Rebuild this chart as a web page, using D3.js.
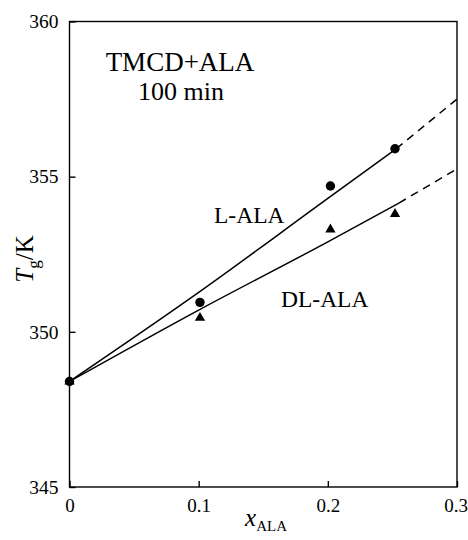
<!DOCTYPE html>
<html>
<head>
<meta charset="utf-8">
<script src="https://cdn.jsdelivr.net/npm/d3@7"></script>
<style>
  html, body { margin: 0; padding: 0; background: #fff; }
  svg { display: block; }
  text { font-family: "Liberation Serif", "Times New Roman", serif; fill: #000; }
</style>
</head>
<body>
<svg id="chart" width="468" height="540"></svg>
<script>
// ---- data ----
const xTicks = [0, 0.1, 0.2, 0.3];
const xTickLabels = ["0", "0.1", "0.2", "0.3"];
const yTicks = [345, 350, 355, 360];
const yTickLabels = ["345", "350", "355", "360"];

const lAlaX = [0, 0.101, 0.202, 0.252];
const lAlaY = [348.4, 350.95, 354.7, 355.9];
const dlAlaX = [0, 0.101, 0.202, 0.252];
const dlAlaY = [348.4, 350.45, 353.3, 353.8];

// fitted curves: solid part, then dashed extrapolation
const lFitX = [0, 0.1, 0.2, 0.253];
const lFitY = [348.4, 351.27, 354.3, 355.9];
const lExtX = [0.253, 0.3];
const lExtY = [355.9, 357.5];
const dlFitX = [0, 0.1, 0.2, 0.255];
const dlFitY = [348.4, 350.7, 352.9, 354.15];
const dlExtX = [0.255, 0.3];
const dlExtY = [354.15, 355.25];

const titleLines = ["TMCD+ALA", "100 min"];
const seriesLabels = ["L-ALA", "DL-ALA"];

// ---- layout ----
const svg = d3.select("#chart");
const L = 69.5, R = 457, T = 21.5, B = 487;
const x = d3.scaleLinear().domain([0, 0.3]).range([L, R]);
const y = d3.scaleLinear().domain([345, 360]).range([B, T]);

// frame
svg.append("rect").attr("x", L).attr("y", T).attr("width", R - L).attr("height", B - T)
  .attr("fill", "none").attr("stroke", "#000").attr("stroke-width", 1.4);

// axes (inward ticks)
const yAxis = d3.axisLeft(y).tickValues(yTicks).tickSizeInner(-6).tickSizeOuter(0)
  .tickPadding(11).tickFormat((d, i) => yTickLabels[i]);
const gy = svg.append("g").attr("transform", `translate(${L},0)`).call(yAxis);
gy.select(".domain").remove();
gy.selectAll("line").attr("stroke", "#000").attr("stroke-width", 1.4);
gy.selectAll("text").style("font-size", "19.5px").style("font-family", '"Liberation Serif", serif');

const xAxis = d3.axisBottom(x).tickValues(xTicks).tickSizeInner(-6).tickSizeOuter(0)
  .tickPadding(12).tickFormat((d, i) => xTickLabels[i]);
const gx = svg.append("g").attr("transform", `translate(0,${B})`).call(xAxis);
gx.select(".domain").remove();
gx.selectAll("line").attr("stroke", "#000").attr("stroke-width", 1.4);
gx.selectAll("text").style("font-size", "19px").style("font-family", '"Liberation Serif", serif');
// keep the last label inside the page
gx.selectAll(".tick").filter(d => d === 0.3).select("text")
  .attr("text-anchor", "end").attr("x", 10.5);

// fit curves
const line = d3.line().x(d => x(d[0])).y(d => y(d[1])).curve(d3.curveMonotoneX);
svg.append("path").datum(lFitX.map((v, i) => [v, lFitY[i]])).attr("d", line)
  .attr("fill", "none").attr("stroke", "#000").attr("stroke-width", 1.5);
svg.append("path").datum(lExtX.map((v, i) => [v, lExtY[i]])).attr("d", line)
  .attr("fill", "none").attr("stroke", "#000").attr("stroke-width", 1.5).attr("stroke-dasharray", "8,6");
svg.append("path").datum(dlFitX.map((v, i) => [v, dlFitY[i]])).attr("d", line)
  .attr("fill", "none").attr("stroke", "#000").attr("stroke-width", 1.5);
svg.append("path").datum(dlExtX.map((v, i) => [v, dlExtY[i]])).attr("d", line)
  .attr("fill", "none").attr("stroke", "#000").attr("stroke-width", 1.5).attr("stroke-dasharray", "8,6");

// markers
svg.append("g").selectAll("circle").data(lAlaX.map((v, i) => [v, lAlaY[i]])).join("circle")
  .attr("cx", d => x(d[0])).attr("cy", d => y(d[1])).attr("r", 4.7).attr("fill", "#000");
const tri = d3.symbol().type(d3.symbolTriangle).size(46);
svg.append("g").selectAll("path").data(dlAlaX.map((v, i) => [v, dlAlaY[i]])).join("path")
  .attr("d", tri).attr("transform", d => `translate(${x(d[0])},${y(d[1])})`).attr("fill", "#000");

// annotations
svg.append("text").attr("x", 180).attr("y", 71).attr("text-anchor", "middle")
  .style("font-size", "27px").text(titleLines[0]);
svg.append("text").attr("x", 181).attr("y", 100).attr("text-anchor", "middle")
  .style("font-size", "26px").text(titleLines[1]);
svg.append("text").attr("x", 214).attr("y", 223).style("font-size", "23.5px").text(seriesLabels[0]);
svg.append("text").attr("x", 281).attr("y", 307).style("font-size", "23.5px").text(seriesLabels[1]);

// y label
const yl = svg.append("text").attr("transform", "translate(33,259) rotate(-90)")
  .attr("text-anchor", "middle").style("font-size", "25px");
yl.append("tspan").style("font-style", "italic").text("T");
yl.append("tspan").attr("dy", 6).style("font-size", "17px").text("g");
yl.append("tspan").attr("dy", -6).text("/K");

// x label
const xl = svg.append("text").attr("x", 266).attr("y", 526).attr("text-anchor", "middle")
  .style("font-size", "25px");
xl.append("tspan").style("font-style", "italic").text("x");
xl.append("tspan").attr("dy", 5).style("font-size", "15px").text("ALA");
</script>
</body>
</html>
